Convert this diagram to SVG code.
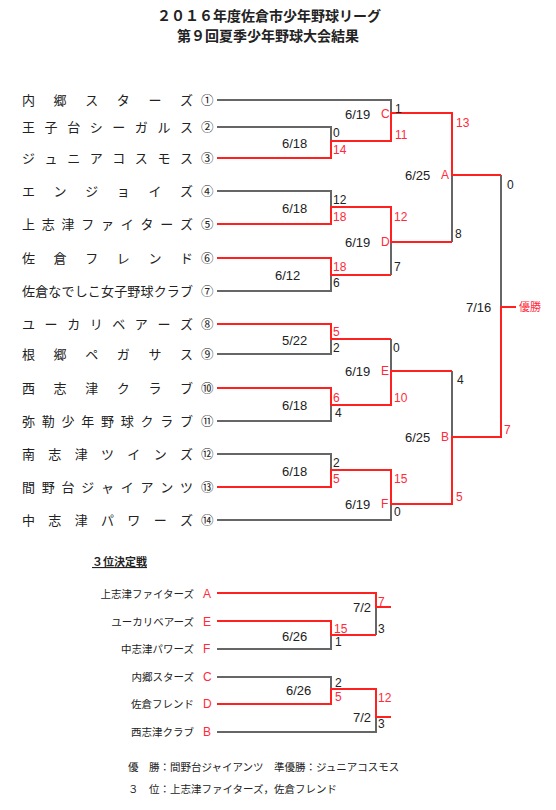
<svg xmlns="http://www.w3.org/2000/svg" width="556" height="810" viewBox="0 0 556 810">
<style>
.bg{fill:#fff}
.g{fill:none;stroke:#666;stroke-width:2}
.r{fill:none;stroke:#ff2020;stroke-width:2}
.t{font-family:"Noto Sans CJK JP","Noto Sans CJK SC",sans-serif;fill:#222}
.nm{font-size:13px}
.cn{font-size:12.5px}
.tt{font-size:14px;font-weight:bold}
.sm{font-size:10.5px}
.n{font-family:"Liberation Sans",Arial,sans-serif;font-size:12px;fill:#222}
.d{font-family:"Liberation Sans",Arial,sans-serif;font-size:13px;fill:#222}
.red{fill:#ff2a3a}
</style>
<rect class="bg" x="0" y="0" width="556" height="810"/>
<g id="title">
<text class="t tt" x="269" y="21" text-anchor="middle">２０１６年度佐倉市少年野球リーグ</text>
<text class="t tt" x="268" y="41" text-anchor="middle">第９回夏季少年野球大会結果</text>
</g>
<g id="teams">
<g id="team1"><text class="t nm" x="22 53.6 85.2 116.8 148.4 180" y="105">内郷スターズ</text><text class="t cn" x="201" y="104.5">①</text></g>
<g id="team2"><text class="t nm" x="22 44.57 67.14 89.71 112.29 134.86 157.43 180" y="132">王子台シーガルス</text><text class="t cn" x="201" y="131.5">②</text></g>
<g id="team3"><text class="t nm" x="22 44.57 67.14 89.71 112.29 134.86 157.43 180" y="163">ジュニアコスモス</text><text class="t cn" x="201" y="162.5">③</text></g>
<g id="team4"><text class="t nm" x="22 53.6 85.2 116.8 148.4 180" y="196">エンジョイズ</text><text class="t cn" x="201" y="195.5">④</text></g>
<g id="team5"><text class="t nm" x="22 41.75 61.5 81.25 101 120.75 140.5 160.25 180" y="229">上志津ファイターズ</text><text class="t cn" x="201" y="228.5">⑤</text></g>
<g id="team6"><text class="t nm" x="22 53.6 85.2 116.8 148.4 180" y="263">佐倉フレンド</text><text class="t cn" x="201" y="262.5">⑥</text></g>
<g id="team7"><text class="t nm" x="22 35.17 48.33 61.5 74.67 87.83 101 114.17 127.33 140.5 153.67 166.83 180" y="296">佐倉なでしこ女子野球クラブ</text><text class="t cn" x="201" y="295.5">⑦</text></g>
<g id="team8"><text class="t nm" x="22 44.57 67.14 89.71 112.29 134.86 157.43 180" y="329">ユーカリベアーズ</text><text class="t cn" x="201" y="328.5">⑧</text></g>
<g id="team9"><text class="t nm" x="22 53.6 85.2 116.8 148.4 180" y="359">根郷ペガサス</text><text class="t cn" x="201" y="358.5">⑨</text></g>
<g id="team10"><text class="t nm" x="22 53.6 85.2 116.8 148.4 180" y="393">西志津クラブ</text><text class="t cn" x="201" y="392.5">⑩</text></g>
<g id="team11"><text class="t nm" x="22 41.75 61.5 81.25 101 120.75 140.5 160.25 180" y="426">弥勒少年野球クラブ</text><text class="t cn" x="201" y="425.5">⑪</text></g>
<g id="team12"><text class="t nm" x="22 48.33 74.67 101 127.33 153.67 180" y="459">南志津ツインズ</text><text class="t cn" x="201" y="458.5">⑫</text></g>
<g id="team13"><text class="t nm" x="22 41.75 61.5 81.25 101 120.75 140.5 160.25 180" y="492">間野台ジャイアンツ</text><text class="t cn" x="201" y="491.5">⑬</text></g>
<g id="team14"><text class="t nm" x="22 48.33 74.67 101 127.33 153.67 180" y="525">中志津パワーズ</text><text class="t cn" x="201" y="524.5">⑭</text></g>
</g>
<g id="connectors">
<path class="g" d="M217,100 H391 V113 M217,127 H331 V141 M217,191 H331 V207 M217,291 H331 V275 M391,242 V275 M452,175 V242 M217,354 H331 V339 M217,421 H331 V405 M391,339 V371 M217,454 H331 V470 M217,520 H391 V504 M452,371 V437 M501,175 V307"/>
<path class="r" d="M217,158 H331 V141 H391 V113 H452 V175 H501 M217,224 H331 V207 H391 V242 H452 M217,258 H331 V275 H391 M217,324 H331 V339 H391 M217,388 H331 V405 H391 V371 H452 M217,487 H331 V470 H391 V504 H452 V437 H501 V307 H516"/>
<path class="g" d="M376,607 V635 M217,649 H331 V635 M217,677 H331 V689 M217,732 H376 V717"/>
<path class="r" d="M217,593 H376 V607 H391 M217,621 H331 V635 H376 M217,704 H331 V689 H376 V717 H391"/>
</g>
<g id="labels">
<text class="d" x="345" y="118.7">6/19</text><text class="n red" x="381" y="118.3">C</text>
<text class="n" x="395" y="113.3">1</text><text class="n red" x="395" y="139.3">11</text>
<text class="n red" x="456" y="127.3">13</text>
<text class="n" x="333" y="137.3">0</text><text class="n red" x="333" y="154.3">14</text>
<text class="d" x="282" y="147.7">6/18</text>
<text class="d" x="405" y="179.7">6/25</text><text class="n red" x="441" y="179.3">A</text>
<text class="n" x="507" y="189.3">0</text>
<text class="n" x="333" y="204.3">12</text><text class="d" x="282" y="212.7">6/18</text>
<text class="n red" x="333" y="221.3">18</text><text class="n red" x="394" y="221.3">12</text>
<text class="d" x="345" y="246.7">6/19</text><text class="n red" x="381" y="246.3">D</text>
<text class="n" x="455" y="238.3">8</text>
<text class="n red" x="333" y="271.3">18</text><text class="n" x="394" y="271.3">7</text>
<text class="d" x="275" y="279.7">6/12</text><text class="n" x="333" y="287.3">6</text>
<text class="d" x="466" y="311.7">7/16</text>
<text class="t red" x="519" y="311" font-size="11">優勝</text>
<text class="n red" x="333" y="336.3">5</text><text class="d" x="282" y="344.7">5/22</text>
<text class="n" x="333" y="352.3">2</text><text class="n" x="393" y="352.3">0</text>
<text class="d" x="345" y="375.7">6/19</text><text class="n red" x="381" y="375.3">E</text>
<text class="n" x="457" y="384.3">4</text>
<text class="n red" x="333" y="402.3">6</text><text class="n red" x="394" y="402.3">10</text>
<text class="d" x="282" y="409.7">6/18</text><text class="n" x="335" y="417.3">4</text>
<text class="d" x="405" y="441.7">6/25</text><text class="n red" x="441" y="441.3">B</text>
<text class="n red" x="504" y="434.3">7</text>
<text class="n" x="333" y="467.3">2</text><text class="d" x="282" y="475.7">6/18</text>
<text class="n red" x="333" y="483.3">5</text><text class="n red" x="394" y="483.3">15</text>
<text class="n red" x="456" y="501.3">5</text>
<text class="d" x="345" y="508.7">6/19</text><text class="n red" x="381" y="508.3">F</text>
<text class="n" x="394" y="516.3">0</text>
</g>
<g id="third">
<text class="t" x="92" y="566" font-size="11" font-weight="bold" text-decoration="underline">３位決定戦</text>
<g id="tA"><text class="t sm" x="194" y="598" text-anchor="end">上志津ファイターズ</text><text class="n red" x="203" y="598.3">A</text></g>
<g id="tE"><text class="t sm" x="194" y="626" text-anchor="end">ユーカリベアーズ</text><text class="n red" x="203" y="626.3">E</text></g>
<g id="tF"><text class="t sm" x="194" y="653" text-anchor="end">中志津パワーズ</text><text class="n red" x="203" y="653.3">F</text></g>
<g id="tC"><text class="t sm" x="194" y="681" text-anchor="end">内郷スターズ</text><text class="n red" x="203" y="681.3">C</text></g>
<g id="tD"><text class="t sm" x="194" y="708" text-anchor="end">佐倉フレンド</text><text class="n red" x="203" y="708.3">D</text></g>
<g id="tB"><text class="t sm" x="194" y="736" text-anchor="end">西志津クラブ</text><text class="n red" x="203" y="736.3">B</text></g>
<text class="d" x="353" y="611.7">7/2</text>
<text class="n red" x="378" y="606.3">7</text>
<text class="n red" x="334" y="633.3">15</text><text class="n" x="378" y="633.3">3</text>
<text class="d" x="282" y="640.7">6/26</text><text class="n" x="335" y="646.3">1</text>
<text class="n" x="335" y="687.3">2</text><text class="d" x="286" y="694.7">6/26</text>
<text class="n red" x="335" y="701.3">5</text><text class="n red" x="378" y="702.3">12</text>
<text class="d" x="353" y="721.7">7/2</text><text class="n" x="378" y="728.3">3</text>
</g>
<g id="results">
<text class="t sm" x="128" y="771">優　勝：間野台ジャイアンツ　準優勝：ジュニアコスモス</text>
<text class="t sm" x="128" y="793">３　位：上志津ファイターズ，佐倉フレンド</text>
</g>
</svg>
